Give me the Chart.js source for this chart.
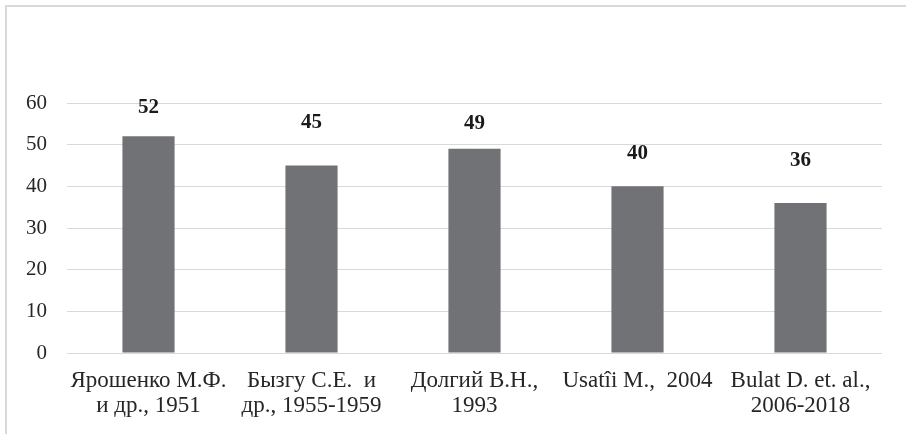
<!DOCTYPE html>
<html>
<head>
<meta charset="utf-8">
<script src="https://cdn.jsdelivr.net/npm/chart.js@4"></script>
<style>
  html, body { margin: 0; padding: 0; background: #fff; }
  #wrap { width: 906px; height: 434px; position: relative; }
</style>
</head>
<body>
<div id="wrap"><canvas id="c" width="906" height="434"></canvas></div>
<script>
// Authors / periods of the studies
const categories = [
  ["Ярошенко М.Ф.", "и др., 1951"],
  ["Бызгу С.Е.  и", "др., 1955-1959"],
  ["Долгий В.Н.,", "1993"],
  "Usatîi M.,  2004",
  ["Bulat D. et. al.,", "2006-2018"]
];
// Values per study
const values = [52, 45, 49, 40, 36];
// Y-axis range and step
const yMin = 0;
const yMax = 60;
const yStep = 10;
// Vertical gap (px) between each bar top and its value label
const labelGaps = [29, 43, 25, 33, 42];

const SERIF = "'Liberation Serif', 'Times New Roman', serif";

// Light frame along the top and left edges
const framePlugin = {
  id: 'frame',
  beforeDraw(chart) {
    const ctx = chart.ctx;
    ctx.save();
    ctx.strokeStyle = '#d9d9d9';
    ctx.lineWidth = 2;
    ctx.beginPath();
    ctx.moveTo(6, chart.height);
    ctx.lineTo(6, 6);
    ctx.lineTo(chart.width, 6);
    ctx.stroke();
    ctx.restore();
  }
};

// Bold value labels above the bars
const valueLabels = {
  id: 'valueLabels',
  afterDatasetsDraw(chart) {
    const ctx = chart.ctx;
    const meta = chart.getDatasetMeta(0);
    ctx.save();
    ctx.font = "bold 21px " + SERIF;
    ctx.fillStyle = '#1a1a1a';
    ctx.textAlign = 'center';
    ctx.textBaseline = 'middle';
    meta.data.forEach((bar, i) => {
      ctx.fillText(String(values[i]), bar.x, bar.y - labelGaps[i]);
    });
    ctx.restore();
  }
};

new Chart(document.getElementById('c'), {
  type: 'bar',
  data: {
    labels: categories,
    datasets: [{
      data: values,
      backgroundColor: '#717276',
      borderWidth: 0,
      barPercentage: 0.32,
      categoryPercentage: 1.0
    }]
  },
  options: {
    responsive: false,
    animation: false,
    devicePixelRatio: 1,
    layout: { padding: { top: 103, right: 24, left: 0, bottom: 0 } },
    plugins: {
      legend: { display: false },
      tooltip: { enabled: false }
    },
    scales: {
      x: {
        grid: { display: false, drawTicks: false },
        border: { display: false },
        ticks: {
          color: '#262626',
          font: { family: SERIF, size: 23, lineHeight: 1.087 },
          padding: 15,
          maxRotation: 0,
          autoSkip: false
        },
        afterFit(scale) { scale.height = 81; }
      },
      y: {
        min: yMin,
        max: yMax,
        grid: { color: '#d9d9d9', lineWidth: 1, drawTicks: false },
        border: { display: false },
        ticks: {
          stepSize: yStep,
          color: '#262626',
          font: { family: SERIF, size: 21 },
          padding: 20
        },
        afterFit(scale) { scale.width = 67; }
      }
    }
  },
  plugins: [framePlugin, valueLabels]
});
</script>
</body>
</html>
